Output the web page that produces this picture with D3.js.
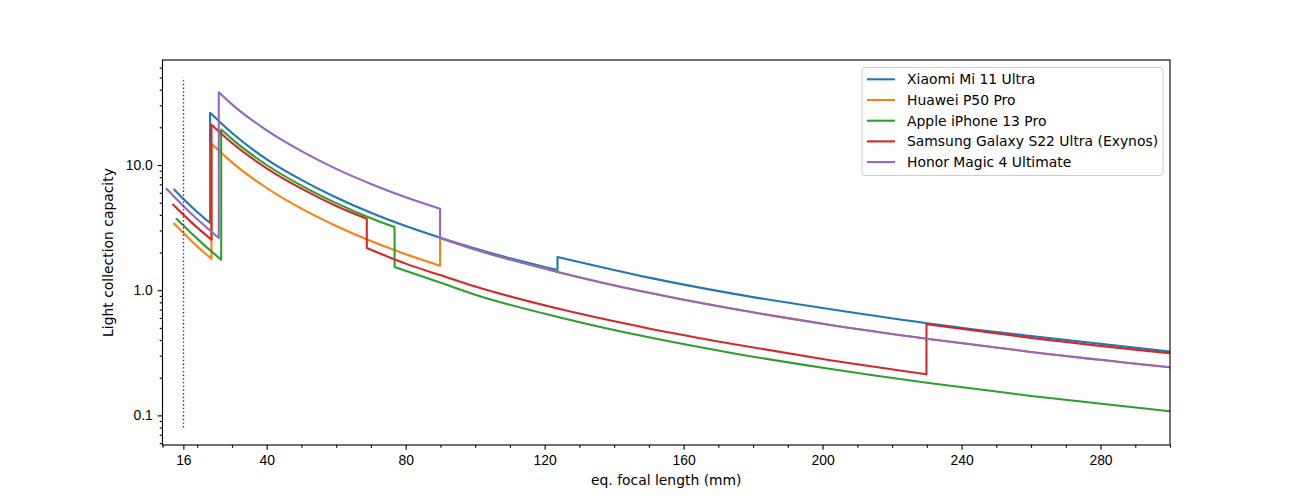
<!DOCTYPE html>
<html>
<head>
<meta charset="utf-8">
<script src="https://cdn.jsdelivr.net/npm/d3@7"></script>
<style>
  body { margin: 0; background: #fff; }
  svg { font-family: "DejaVu Sans", sans-serif; }
  .tick text { font-size: 13.9px; fill: #000; }
</style>
</head>
<body>
<div class="container"></div>
<script>
// focal length (mm) / light collection capacity
// each phone: list of segments, neighbouring segments get joined by a vertical jump
const xiaomi = [
    [[13.4, 6.35], [18.5, 4.6], [23.7, 3.44]],
    [[23.7, 26.1], [30, 18.0], [40, 11.1], [50, 7.6], [60, 5.5], [70, 4.15], [80, 3.25], [90, 2.62], [100, 2.15], [110, 1.8], [123.7, 1.45]],
    [[123.7, 1.84], [150, 1.26], [175, 0.93], [200, 0.72], [230, 0.545], [260, 0.43], [300, 0.323]]
];
const huawei = [
    [[13.4, 3.39], [18.7, 2.42], [24.1, 1.78]],
    [[24.1, 14.8], [30, 10.5], [40, 6.55], [50, 4.48], [60, 3.26], [70, 2.47], [80, 1.94], [89.9, 1.57]],
    [[89.9, 2.61], [100, 2.11], [123.7, 1.4], [150, 0.953], [175, 0.703], [200, 0.54], [230, 0.41], [260, 0.321], [300, 0.242]]
];
const apple = [
    [[14.1, 3.7], [20.5, 2.5], [26.9, 1.75]],
    [[26.9, 19.2], [30, 16.1], [40, 10.0], [50, 6.84], [60, 4.96], [70, 3.76], [76.8, 3.19]],
    [[76.8, 1.53], [89.9, 1.15], [100, 0.92], [125, 0.6], [150, 0.42], [175, 0.311], [200, 0.24], [230, 0.182], [260, 0.143], [300, 0.108]]
];
const samsung = [
    [[13.1, 4.81], [18.5, 3.45], [24.1, 2.53]],
    [[24.1, 21.0], [30, 15.0], [40, 9.41], [50, 6.47], [60, 4.71], [68.8, 3.72]],
    [[68.8, 2.17], [80, 1.63], [89.9, 1.32], [100, 1.07], [125, 0.7], [150, 0.495], [175, 0.368], [200, 0.282], [229.9, 0.213]],
    [[229.9, 0.535], [260, 0.416], [300, 0.313]]
];
const honor = [
    [[11.2, 6.43], [18.6, 4.0], [26.2, 2.61]],
    [[26.2, 38.1], [30, 30.5], [40, 18.9], [50, 12.9], [60, 9.31], [70, 7.05], [80, 5.52], [89.9, 4.47]],
    [[89.9, 2.61], [100, 2.11], [123.7, 1.4], [150, 0.953], [175, 0.703], [200, 0.54], [230, 0.41], [260, 0.321], [300, 0.242]]
];

const seriesNames = ["Xiaomi Mi 11 Ultra", "Huawei P50 Pro", "Apple iPhone 13 Pro",
    "Samsung Galaxy S22 Ultra (Exynos)", "Honor Magic 4 Ultimate"];
const seriesData = [xiaomi, huawei, apple, samsung, honor];
const colors = ["#1f77b4", "#ff7f0e", "#2ca02c", "#d62728", "#9467bd"];

// dotted marker at 16mm
const markerFocal = 16,
    markerRange = [0.08, 50];

const xTicks = [16, 40, 80, 120, 160, 200, 240, 280];
const yTicks = [0.1, 1, 10];
const yTickLabels = ["0.1", "1.0", "10.0"];

const pt = 100 / 72; // matplotlib points -> px at dpi 100

const width = 1300, height = 500,
    margin = {top: 60, right: 130, bottom: 55, left: 162.5};

const svg = d3.select('.container')
    .append('svg')
    .attr('width', width)
    .attr('height', height);

const x = d3.scaleLinear()
    .domain([10, 300])
    .range([margin.left, width - margin.right]);

// matplotlib style 5% margin in log space
const lo = Math.log10(markerRange[0]), hi = Math.log10(markerRange[1]),
    pad = (hi - lo) * 0.05;
const y = d3.scaleLog()
    .domain([Math.pow(10, lo - pad), Math.pow(10, hi + pad)])
    .range([height - margin.bottom, margin.top]);

svg.append('clipPath').attr('id', 'clip')
    .append('rect')
    .attr('x', margin.left).attr('y', margin.top)
    .attr('width', x.range()[1] - margin.left)
    .attr('height', y.range()[0] - margin.top);

// axes
const xMinor = d3.range(10, 301, 10).filter(d => !xTicks.includes(d));
svg.append('g')
    .attr('transform', `translate(0,${y.range()[0]})`)
    .call(d3.axisBottom(x).tickValues(xMinor).tickSize(2 * pt).tickFormat(''))
    .call(g => g.select('.domain').remove());
svg.append('g')
    .attr('transform', `translate(0,${y.range()[0]})`)
    .call(d3.axisBottom(x).tickValues(xTicks).tickSize(3.5 * pt).tickPadding(3.5 * pt).tickFormat(d3.format('d')))
    .call(g => g.select('.domain').remove());

const yMinor = [];
[0.01, 0.1, 1, 10].forEach(dec => {
    for (let k = 2; k <= 9; k++) {
        const v = dec * k;
        if (v >= y.domain()[0] && v <= y.domain()[1]) yMinor.push(v);
    }
});
svg.append('g')
    .attr('transform', `translate(${margin.left},0)`)
    .call(d3.axisLeft(y).tickValues(yMinor).tickSize(2 * pt).tickFormat(''))
    .call(g => g.select('.domain').remove());
svg.append('g')
    .attr('transform', `translate(${margin.left},0)`)
    .call(d3.axisLeft(y).tickValues(yTicks).tickSize(3.5 * pt).tickPadding(3.5 * pt)
        .tickFormat((d, i) => yTickLabels[i]))
    .call(g => g.select('.domain').remove());

svg.selectAll('.tick line').attr('stroke', '#000').attr('stroke-width', 0.8 * pt);

// lines
const segLine = d3.line()
    .x(d => x(d[0]))
    .y(d => y(d[1]))
    .curve(d3.curveMonotoneX);

const buildPath = segs => segs.map((s, i) => {
    const p = segLine(s);
    return i === 0 ? p : 'L' + p.slice(1);
}).join('');

const plot = svg.append('g').attr('clip-path', 'url(#clip)');

plot.selectAll('.phone')
    .data(seriesData)
    .enter()
    .append('path')
    .attr('class', 'phone')
    .attr('d', buildPath)
    .attr('fill', 'none')
    .attr('stroke', (d, i) => colors[i])
    .attr('stroke-width', 1.5 * pt)
    .attr('stroke-linejoin', 'round')
    .attr('stroke-linecap', 'square');

// snap to pixel centre so the dots stay crisp
const mx = Math.round(x(markerFocal)) + 0.5;
plot.append('line')
    .attr('x1', mx).attr('x2', mx)
    .attr('y1', y(markerRange[0])).attr('y2', y(markerRange[1]))
    .attr('stroke', '#800080')
    .attr('stroke-width', 1 * pt)
    .attr('stroke-dasharray', `${1 * pt},${1.65 * pt}`);

// frame
svg.append('rect')
    .attr('x', margin.left).attr('y', margin.top)
    .attr('width', x.range()[1] - margin.left)
    .attr('height', y.range()[0] - margin.top)
    .attr('fill', 'none')
    .attr('stroke', '#000')
    .attr('stroke-width', 0.8 * pt);

// axis labels
svg.append('text')
    .attr('x', (x.range()[0] + x.range()[1]) / 2)
    .attr('y', 485)
    .attr('text-anchor', 'middle')
    .attr('font-size', 13.9)
    .text('eq. focal length (mm)');

svg.append('text')
    .attr('transform', `translate(113,${(y.range()[0] + y.range()[1]) / 2}) rotate(-90)`)
    .attr('text-anchor', 'middle')
    .attr('font-size', 13.9)
    .text('Light collection capacity');

// legend
const legend = svg.append('g');
legend.append('rect')
    .attr('x', 862).attr('y', 67.5)
    .attr('width', 301).attr('height', 108)
    .attr('rx', 3)
    .attr('fill', '#fff').attr('fill-opacity', 0.8)
    .attr('stroke', '#cccccc').attr('stroke-width', 1);

const item = legend.selectAll('.item')
    .data(seriesNames)
    .enter()
    .append('g')
    .attr('transform', (d, i) => `translate(0,${79.3 + i * 20.7})`);
item.append('line')
    .attr('x1', 867).attr('x2', 895)
    .attr('stroke', (d, i) => colors[i])
    .attr('stroke-width', 1.5 * pt);
item.append('text')
    .attr('x', 907)
    .attr('dy', '0.36em')
    .attr('font-size', 13.9)
    .text(d => d);
</script>
</body>
</html>
